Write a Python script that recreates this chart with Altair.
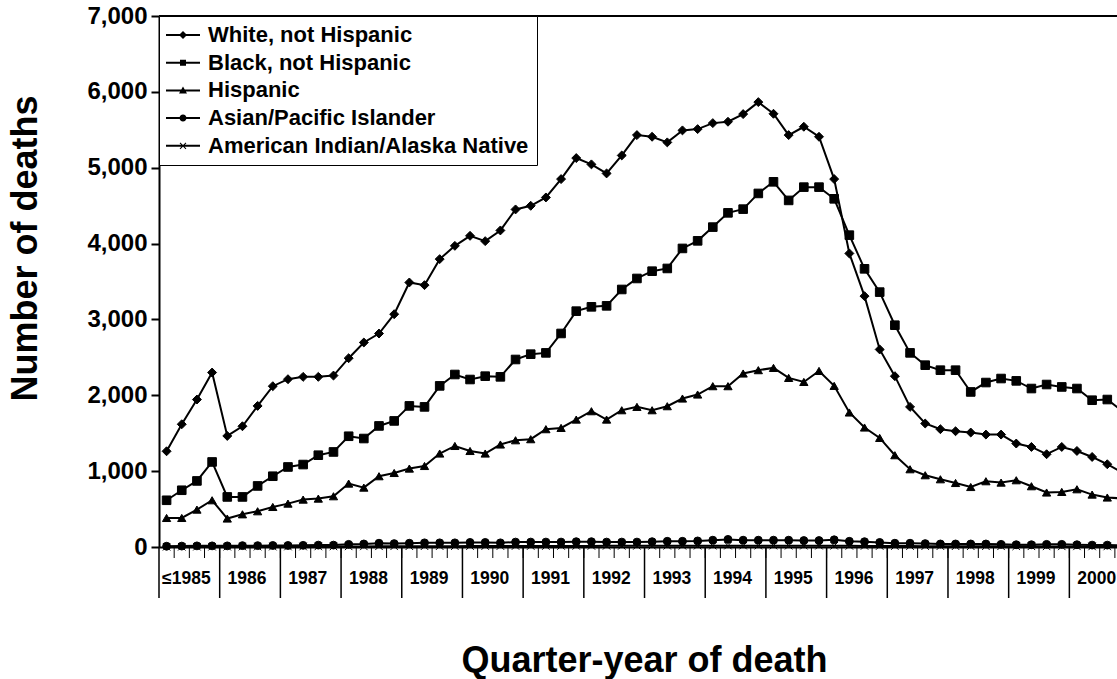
import altair as alt
import pandas as pd

# Quarter-year index: 0 = first quarter of 1985 (incl. earlier), 63 = fourth quarter of 2000
groups = [
    "White, not Hispanic",
    "Black, not Hispanic",
    "Hispanic",
    "Asian/Pacific Islander",
    "American Indian/Alaska Native",
]

white = [1262, 1618, 1944, 2300, 1464, 1592, 1860, 2120,
         2212, 2243, 2243, 2260, 2489, 2696, 2814, 3069,
         3487, 3452, 3795, 3970, 4102, 4032, 4173, 4450,
         4498, 4608, 4850, 5127, 5044, 4925, 5162, 5430,
         5408, 5334, 5492, 5509, 5588, 5606, 5707, 5865,
         5711, 5430, 5540, 5408, 4850, 3870, 3307, 2604,
         2252, 1847, 1628, 1553, 1526, 1509, 1482, 1482,
         1364, 1319, 1223, 1319, 1266, 1187, 1091, 980]

black = [616, 748, 871, 1121, 660, 660, 805, 933,
         1055, 1087, 1210, 1253, 1460, 1430, 1596, 1662,
         1860, 1847, 2124, 2274, 2208, 2252, 2243, 2472,
         2542, 2559, 2815, 3109, 3166, 3179, 3395, 3540,
         3636, 3672, 3936, 4036, 4217, 4405, 4454, 4661,
         4814, 4569, 4744, 4744, 4590, 4111, 3667, 3360,
         2924, 2559, 2397, 2331, 2331, 2044, 2168, 2221,
         2190, 2089, 2142, 2110, 2089, 1935, 1944, 1790]

hispanic = [383, 383, 493, 616, 375, 431, 471, 528,
            572, 625, 638, 669, 836, 783, 933, 976,
            1034, 1068, 1232, 1332, 1266, 1232, 1351, 1407,
            1421, 1553, 1570, 1680, 1790, 1680, 1803, 1847,
            1803, 1856, 1957, 2010, 2120, 2120, 2287, 2331,
            2361, 2229, 2176, 2321, 2124, 1773, 1575, 1438,
            1210, 1025, 946, 893, 844, 791, 867, 849,
            880, 801, 718, 726, 761, 691, 652, 640]

asian = [10, 12, 15, 15, 15, 18, 18, 20,
         20, 22, 25, 25, 35, 40, 50, 45,
         50, 55, 55, 55, 60, 60, 55, 65,
         65, 65, 65, 70, 70, 65, 65, 65,
         70, 75, 75, 80, 90, 100, 90, 90,
         90, 90, 85, 85, 95, 75, 70, 60,
         50, 50, 45, 40, 40, 40, 40, 35,
         30, 30, 35, 35, 30, 25, 25, 20]

amindian = [3, 3, 4, 4, 4, 5, 5, 5,
            6, 6, 7, 7, 8, 8, 9, 9,
            10, 10, 11, 11, 12, 12, 12, 13,
            13, 13, 14, 14, 14, 15, 15, 15,
            16, 16, 16, 17, 17, 18, 18, 18,
            18, 17, 17, 17, 16, 15, 14, 13,
            12, 12, 11, 11, 10, 10, 10, 9,
            9, 9, 8, 8, 8, 7, 7, 7]

year_labels = ["\u22641985"] + [str(y) for y in range(1986, 2001)]
y_ticks = [0, 1000, 2000, 3000, 4000, 5000, 6000, 7000]

series = [white, black, hispanic, asian, amindian]
rows = []
for g, vals in zip(groups, series):
    for q, v in enumerate(vals):
        rows.append({"quarter": q, "group": g, "deaths": v})
df = pd.DataFrame(rows)

edges_df = pd.DataFrame({"edge": [q + 0.5 for q in range(63)]})
years_df = pd.DataFrame({
    "sep": [-0.5] + [3.5 + 4 * k for k in range(15)],
})
labels_df = pd.DataFrame({
    "pos": [1.5 + 4 * k for k in range(16)],
    "label": year_labels,
})

W, H = 958, 531
FONT = "Liberation Sans"

x_scale = alt.Scale(domain=[-0.5, 62.64], nice=False, zero=False)
y_scale = alt.Scale(domain=[0, 7000], nice=False)

x_enc = alt.X(
    "quarter:Q",
    scale=x_scale,
    axis=alt.Axis(
        domain=True, domainColor="black", domainWidth=2,
        ticks=False, labels=False, grid=False,
        title="Quarter-year of death",
        titleFont=FONT, titleFontSize=36, titleFontWeight="bold",
        titleColor="black", titleX=485, titleY=113,
        titleAlign="center", titleBaseline="middle",
    ),
)
y_enc = alt.Y(
    "deaths:Q",
    scale=y_scale,
    axis=alt.Axis(
        values=y_ticks, format=",.0f", grid=False,
        domainColor="black", domainWidth=2,
        tickColor="black", tickWidth=2, tickSize=8,
        labelFont=FONT, labelFontSize=24, labelFontWeight="bold",
        labelColor="black", labelPadding=4,
        title="Number of deaths",
        titleFont=FONT, titleFontSize=36, titleFontWeight="bold",
        titleColor="black", titleX=-134, titleY=232,
        titleAlign="center", titleBaseline="middle", titleAngle=270,
    ),
)

marker_shapes = ["diamond", "square", "triangle-up", "circle",
                 "M-1,-1L1,1M-1,1L1,-1"]
marker_sizes = [80, 56, 75, 50, 36]

# legend glyphs: a short line with the series marker in its middle (filled outlines)
LINE = "M-3.4,-0.2H3.4V0.2H-3.4Z"
legend_shapes = [
    LINE + "M0,-0.8L0.8,0L0,0.8L-0.8,0Z",
    LINE + "M-0.6,-0.6H0.6V0.6H-0.6Z",
    LINE + "M0,-0.8L0.8,0.6H-0.8Z",
    LINE + "M-0.7,0A0.7,0.7,0,1,1,0.7,0A0.7,0.7,0,1,1,-0.7,0Z",
    LINE + "M-0.53,-0.67L0.67,0.53L0.53,0.67L-0.67,-0.53Z"
         + "M-0.67,0.53L0.53,-0.67L0.67,-0.53L-0.53,0.67Z",
]

base = alt.Chart(df)

lines = base.mark_line(color="black", strokeWidth=2).encode(
    x=x_enc, y=y_enc, detail="group:N"
)

points = base.mark_point(
    filled=True, color="black", stroke="black", strokeWidth=1, opacity=1
).encode(
    x=x_enc,
    y=y_enc,
    shape=alt.Shape("group:N", scale=alt.Scale(domain=groups, range=marker_shapes), legend=None),
    size=alt.Size("group:N", scale=alt.Scale(domain=groups, range=marker_sizes), legend=None),
)

legend_layer = base.mark_point(filled=True, color="black", opacity=0).encode(
    x=x_enc,
    y=y_enc,
    shape=alt.Shape(
        "group:N",
        scale=alt.Scale(domain=groups, range=legend_shapes),
        legend=alt.Legend(
            title=None, orient="top-left", offset=0, padding=8,
            strokeColor="black", fillColor="white",
            labelFont=FONT, labelFontSize=22, labelFontWeight="bold",
            labelColor="black", labelOffset=14, labelLimit=500,
            rowPadding=5.7,
            symbolSize=100, symbolOffset=5, symbolOpacity=1,
            symbolFillColor="black", symbolStrokeWidth=0,
        ),
    ),
)

# short quarter ticks under the baseline
qticks = alt.Chart(edges_df).mark_rule(color="black", strokeWidth=1).encode(
    x=alt.X("edge:Q", scale=x_scale), y=alt.value(H), y2=alt.value(H + 11)
)
# long year separators
seps = alt.Chart(years_df).mark_rule(color="black", strokeWidth=1.5).encode(
    x=alt.X("sep:Q", scale=x_scale), y=alt.value(H), y2=alt.value(H + 51)
)
ylabels = alt.Chart(labels_df).mark_text(
    font=FONT, fontSize=17.5, fontWeight="bold", color="black",
    baseline="middle", dx=-3
).encode(
    x=alt.X("pos:Q", scale=x_scale), y=alt.value(H + 32), text="label:N"
)
# upper frame line
frame_top = alt.Chart(labels_df).mark_rule(color="black", strokeWidth=1.5).encode(
    x=alt.value(0), x2=alt.value(W), y=alt.value(0)
)

chart = alt.layer(
    frame_top, qticks, seps, ylabels, lines, points, legend_layer
).resolve_scale(
    shape="independent", size="independent"
).properties(
    width=W, height=H,
    autosize=alt.AutoSizeParams(type="none"),
    padding={"left": 159, "top": 16, "right": 0, "bottom": 132},
    background="white",
).configure_view(stroke=None)

chart.save("out.html", embed_options={"renderer": "svg", "actions": False})
